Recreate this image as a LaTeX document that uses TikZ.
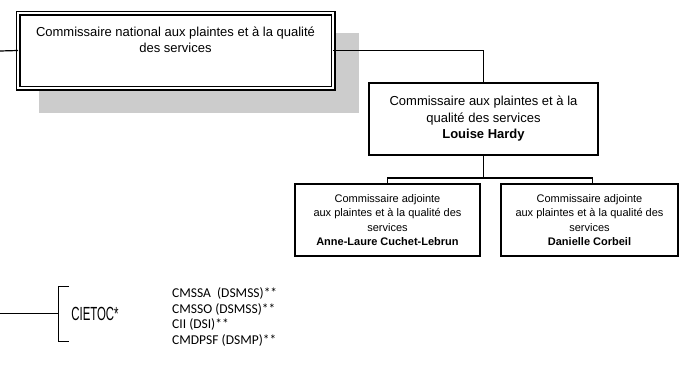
\documentclass[tikz,border=0pt]{standalone}
\usepackage{fontspec}
\setmainfont{Liberation Sans}
\newfontfamily\carl{Carlito}
\usepackage{graphicx}
\begin{document}
\begin{tikzpicture}[x=1pt,y=-1pt,
  box/.style={draw=black,line width=1.6pt,fill=white,inner sep=0pt,outer sep=0pt,align=center},
  dbox/.style={draw=black,line width=1.2pt,double=white,double distance=2.6pt,fill=white,inner sep=0pt,outer sep=0pt},
  conn/.style={draw=black,line width=1.2pt},
  brk/.style={draw=black,line width=0.9pt},
  big/.style={font=\fontsize{13}{16.5}\selectfont},
  small/.style={font=\fontsize{11}{14.3}\selectfont},
]
\useasboundingbox (0,0) rectangle (686,370);
% shadow
\fill[black!20] (39,33) rectangle (359,113);
% top box
\node[dbox,minimum width=315pt,minimum height=75pt] (box1) at (175.5,50.5) {};
\node[big,align=center,inner sep=0pt] (t1) at (175.5,40) {Commissaire national aux plaintes et à la qualité\\des services};
% box 2
\node[box,big,minimum width=229pt,minimum height=72pt] (box2) at (483.5,119) {Commissaire aux plaintes et à la\\qualité des services\\\textbf{Louise Hardy}};
% box 3,4
\node[box,small,minimum width=185pt,minimum height=72pt] (box3) at (387.5,220) {Commissaire adjointe\\aux plaintes et à la qualité des\\services\\\textbf{Anne-Laure Cuchet-Lebrun}};
\node[box,small,minimum width=177pt,minimum height=72pt] (box4) at (589.5,220) {Commissaire adjointe\\aux plaintes et à la qualité des\\services\\\textbf{Danielle Corbeil}};
% connectors
\coordinate (l0) at (0,51);
\draw[conn] (l0) -- (box1.west);
\draw[conn] (box1.east) -| (box2.north);
\coordinate (j) at (483.5,178);
\draw[conn] (box2.south) -- (j);
\draw[conn] (j) -| (box3.north);
\draw[conn] (j) -| ([xshift=3pt]box4.north);
% CIETOC
\coordinate (c0) at (0,313);
\coordinate (cb) at (58,313);
\draw[brk] (c0) -- (cb);
\draw[brk] (69,286) -- (58,286) -- (58,341) -- (69,341);
\node[inner sep=0pt,font=\fontsize{19}{19}\selectfont] (cietoc) at (95,314) {\scalebox{0.6}[1]{CIETOC*}};
\node[inner sep=0pt,anchor=west,align=left,font=\carl\fontsize{13.5}{15.6}\selectfont] (list) at (172,317) {CMSSA\ \ (DSMSS)**\\CMSSO (DSMSS)**\\CII (DSI)**\\CMDPSF (DSMP)**};
\end{tikzpicture}
\end{document}
